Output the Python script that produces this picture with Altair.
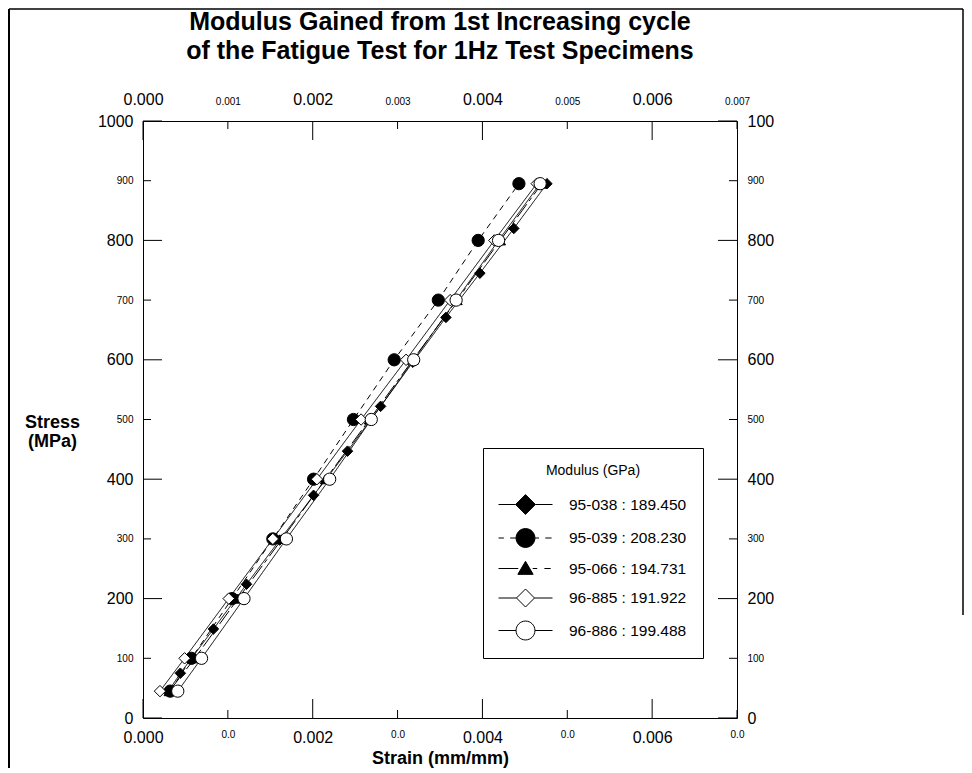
import altair as alt
import pandas as pd

# ---------------- data ----------------
series_ids = ["95-038", "95-039", "95-066", "96-885", "96-886"]
moduli = ["189.450", "208.230", "194.731", "191.922", "199.488"]

stress_95038 = [45, 75, 149, 224, 298, 373, 447, 522, 596, 671, 745, 820, 895]
strain_95038 = [0.00030, 0.00044, 0.00083, 0.00122, 0.00161, 0.00201, 0.00241,
                0.00280, 0.00318, 0.00357, 0.00397, 0.00437, 0.00476]

stress_95039 = [45, 100, 200, 300, 400, 500, 600, 700, 800, 895]
strain_95039 = [0.00032, 0.00057, 0.00105, 0.00153, 0.00201, 0.00248, 0.00296,
                0.00348, 0.00395, 0.00443]

stress_95066 = [45, 100, 200, 300, 400, 500, 600, 700, 800, 895]
strain_95066 = [0.00031, 0.00061, 0.00112, 0.00164, 0.00215, 0.00267, 0.00318,
                0.00370, 0.00421, 0.00470]

stress_96885 = [45, 100, 200, 300, 400, 500, 600, 700, 800, 895]
strain_96885 = [0.00020, 0.00049, 0.00101, 0.00153, 0.00205, 0.00257, 0.00310,
                0.00362, 0.00414, 0.00464]

stress_96886 = [45, 100, 200, 300, 400, 500, 600, 700, 800, 895]
strain_96886 = [0.00041, 0.00069, 0.00119, 0.00169, 0.00220, 0.00269, 0.00319,
                0.00369, 0.00419, 0.00468]

x_ticks = [0.000, 0.001, 0.002, 0.003, 0.004, 0.005, 0.006, 0.007]
x_major = [0.000, 0.002, 0.004, 0.006]
x_minor = [0.001, 0.003, 0.005, 0.007]
y_ticks = [0, 100, 200, 300, 400, 500, 600, 700, 800, 900, 1000]
y_major = [0, 200, 400, 600, 800, 1000]
y_minor = [100, 300, 500, 700, 900]

title_lines = ["Modulus Gained from 1st Increasing cycle",
               "of the Fatigue Test for 1Hz Test Specimens"]

# ---------------- tables ----------------
labels = [f"{s} : {m}" for s, m in zip(series_ids, moduli)]
all_strain = [strain_95038, strain_95039, strain_95066, strain_96885, strain_96886]
all_stress = [stress_95038, stress_95039, stress_95066, stress_96885, stress_96886]
rows = []
for lab, xs_, ys_ in zip(labels, all_strain, all_stress):
    for a, b in zip(xs_, ys_):
        rows.append({"series": lab, "strain": a, "stress": b})
df = pd.DataFrame(rows)

W, H = 594, 597
FONT = "Liberation Sans, Arial, Helvetica, sans-serif"

xs = alt.Scale(domain=[0, 0.007], nice=False, zero=False)
ys = alt.Scale(domain=[0, 1000], nice=False, zero=False)

common_axis = dict(ticks=False, domain=True, domainColor="black", domainWidth=1,
                   grid=False, labelFont=FONT, labelColor="black",
                   labelOverlap=False, labelFlush=False, labelBound=False)

x_even = "round(datum.value*1000) % 2 === 0"
y_even = "datum.value % 200 === 0"

ax_bottom = alt.Axis(orient="bottom", values=x_ticks,
                     labelExpr=f"{x_even} ? format(datum.value, '.3f') : '0.0'",
                     labelFontSize=alt.condition(x_even, alt.value(16), alt.value(10)),
                     labelBaseline="top", labelPadding=11,
                     title="Strain (mm/mm)", titleFont=FONT, titleFontSize=18,
                     titleFontWeight="bold", titleColor="black", titlePadding=4,
                     **common_axis)
ax_top = alt.Axis(orient="top", values=x_ticks,
                  labelExpr="format(datum.value, '.3f')",
                  labelFontSize=alt.condition(x_even, alt.value(16), alt.value(10)),
                  labelBaseline="alphabetic", labelPadding=17, title=None,
                  **common_axis)
ax_left = alt.Axis(orient="left", values=y_ticks,
                   labelExpr="format(datum.value, 'd')",
                   labelFontSize=alt.condition(y_even, alt.value(16), alt.value(10)),
                   labelPadding=10,
                   title=["Stress", "(MPa)"], titleFont=FONT, titleFontSize=18,
                   titleFontWeight="bold", titleColor="black", titleAngle=0,
                   titleAlign="center", titleBaseline="middle",
                   titleX=-91, titleY=301, titleLineHeight=19,
                   **common_axis)
ax_right = alt.Axis(orient="right", values=y_ticks,
                    labelExpr="datum.value === 1000 ? '100' : format(datum.value, 'd')",
                    labelFontSize=alt.condition(y_even, alt.value(16), alt.value(10)),
                    labelPadding=10, title=None,
                    **common_axis)

styles = {
    labels[0]: dict(dash=[1, 0], shape="diamond", fill="black", size=110),
    labels[1]: dict(dash=[6, 5], shape="circle", fill="black", size=150),
    labels[2]: dict(dash=[16, 4, 4, 4], shape="triangle-up", fill="black", size=110),
    labels[3]: dict(dash=[1, 0], shape="diamond", fill="white", size=130),
    labels[4]: dict(dash=[1, 0], shape="circle", fill="white", size=150),
}

base = alt.Chart(df)
layers = []

# outer frame (decoration)
frame = alt.Chart(pd.DataFrame({"k": [0]}))
layers.append(frame.mark_rule(color="black", strokeWidth=2).encode(
    x=alt.value(-134), y=alt.value(-112), y2=alt.value(H + 50)))
layers.append(frame.mark_rule(color="black", strokeWidth=1.5).encode(
    x=alt.value(-134), x2=alt.value(W + 226), y=alt.value(-112)))
layers.append(frame.mark_rule(color="black", strokeWidth=1.5).encode(
    x=alt.value(W + 226), y=alt.value(-112), y2=alt.value(494)))

for i, lab in enumerate(labels):
    st = styles[lab]
    if i == 0:
        xa, ya = ax_bottom, ax_left
    elif i == 1:
        xa, ya = ax_top, ax_right
    else:
        xa, ya = None, None
    layers.append(base.transform_filter(alt.datum.series == lab).mark_line(
        color="black", strokeWidth=1, strokeDash=st["dash"]).encode(
        x=alt.X("strain:Q", scale=xs, axis=xa),
        y=alt.Y("stress:Q", scale=ys, axis=ya),
        order="stress:Q"))

for lab in labels:
    st = styles[lab]
    layers.append(base.transform_filter(alt.datum.series == lab).mark_point(
        shape=st["shape"], filled=True, fill=st["fill"], stroke="black",
        strokeWidth=1, size=st["size"], opacity=1).encode(
        x=alt.X("strain:Q", scale=xs, axis=None),
        y=alt.Y("stress:Q", scale=ys, axis=None)))

# inward tick marks
def xticks(vals, y0, y1):
    return alt.Chart(pd.DataFrame({"strain": vals})).mark_rule(
        color="black", strokeWidth=1).encode(
        x=alt.X("strain:Q", scale=xs, axis=None), y=alt.value(y0), y2=alt.value(y1))

def yticks(vals, x0, x1):
    return alt.Chart(pd.DataFrame({"stress": vals})).mark_rule(
        color="black", strokeWidth=1).encode(
        y=alt.Y("stress:Q", scale=ys, axis=None), x=alt.value(x0), x2=alt.value(x1))

layers += [xticks(x_major, H, H - 19), xticks(x_minor, H, H - 8),
           xticks(x_major, 0, 19), xticks(x_minor, 0, 8),
           yticks(y_major, 0, 19), yticks(y_minor, 0, 8),
           yticks(y_major, W, W - 19), yticks(y_minor, W, W - 8)]

# legend symbols: line + marker drawn as one path
paths = [
    "M-3,0H-1.1M1.1,0H3M0,-1.1L1.1,0L0,1.1L-1.1,0Z",
    "M-3,0H-2.4M-1.7,0H-1.05M1.05,0H1.5M2.2,0H2.9"
    "M1.05,0A1.05,1.05,0,1,1,-1.05,0A1.05,1.05,0,1,1,1.05,0Z",
    "M-3,0H-0.8M0.8,0H1.3M2.1,0H2.8M0,-0.8L0.85,0.65L-0.85,0.65Z",
    "M-3,0H-1M1,0H3M0,-1L1,0L0,1L-1,0Z",
    "M-3,0H-1.05M1.05,0H3M1.05,0A1.05,1.05,0,1,1,-1.05,0A1.05,1.05,0,1,1,1.05,0Z",
]
fills = ["black", "black", "black", "white", "white"]
strokes = ["black"] * 5

leg = alt.Legend(orient="none", legendX=340, legendY=327, title="Modulus (GPa)",
                 titleFont=FONT, titleFontSize=14, titleFontWeight="normal",
                 titleColor="black", titleAnchor="middle", titleAlign="center",
                 titlePadding=17, labelFont=FONT, labelFontSize=15.5,
                 labelColor="black", labelLimit=400, labelOffset=34,
                 symbolSize=324, symbolOffset=17, symbolStrokeColor="black",
                 symbolStrokeWidth=1, rowPadding=9.5, padding=16,
                 strokeColor="black", fillColor="white")

layers.append(base.transform_filter("false").mark_point(
    filled=True, strokeWidth=1, size=324, opacity=1).encode(
    shape=alt.Shape("series:N", scale=alt.Scale(domain=labels, range=paths), legend=leg),
    fill=alt.Fill("series:N", scale=alt.Scale(domain=labels, range=fills), legend=leg),
    stroke=alt.Stroke("series:N", scale=alt.Scale(domain=labels, range=strokes), legend=leg)))

chart = alt.layer(*layers).resolve_axis(x="independent", y="independent").properties(
    width=W, height=H, autosize="none",
    padding={"left": 135, "top": 113, "right": 227, "bottom": 50},
    title=alt.TitleParams(text=title_lines, font=FONT, fontSize=25, fontWeight="bold",
                          color="black", anchor="middle", offset=0, dy=56, lineHeight=29),
).configure_view(stroke="black", strokeWidth=1).configure(background="white")

chart.save("out.html", embed_options={"renderer": "svg", "actions": False})
